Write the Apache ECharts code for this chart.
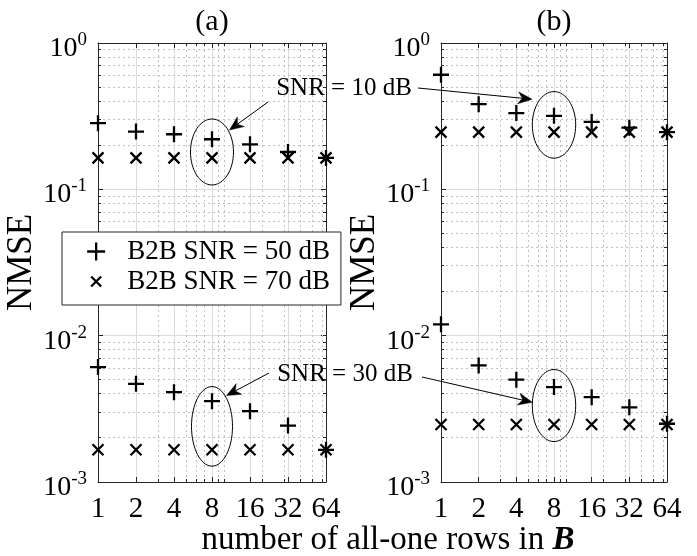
<!DOCTYPE html>
<html><head><meta charset="utf-8">
<script src="https://cdn.jsdelivr.net/npm/echarts@6/dist/echarts.min.js"></script>
<style>html,body{margin:0;padding:0;background:#fff}#c{width:697px;height:556px}</style>
</head><body><div id="c"></div>
<script>
// ---------- data ----------
const xVals = [1, 2, 4, 8, 16, 32, 64];
const xMinor = [3, 5, 6, 7, 9, 10, 20, 30, 40, 50, 60];
const yMinor = [0.002, 0.003, 0.004, 0.005, 0.006, 0.007, 0.008, 0.009,
                0.02, 0.03, 0.04, 0.05, 0.06, 0.07, 0.08, 0.09,
                0.2, 0.3, 0.4, 0.5, 0.6, 0.7, 0.8, 0.9];
const xRange = [1, 64];
const yRange = [0.001, 1];
// (a)
const a_snr10_b2b50 = [0.283, 0.248, 0.238, 0.220, 0.203, 0.180, 0.164];
const a_snr10_b2b70 = [0.164, 0.164, 0.164, 0.164, 0.164, 0.164, 0.164];
const a_snr30_b2b50 = [0.00610, 0.00469, 0.00411, 0.00357, 0.00305, 0.00243, 0.00166];
const a_snr30_b2b70 = [0.00166, 0.00166, 0.00166, 0.00166, 0.00166, 0.00166, 0.00166];
// (b)
const b_snr10_b2b50 = [0.607, 0.382, 0.332, 0.318, 0.289, 0.264, 0.246];
const b_snr10_b2b70 = [0.246, 0.246, 0.246, 0.246, 0.246, 0.246, 0.246];
const b_snr30_b2b50 = [0.01195, 0.00626, 0.00500, 0.00445, 0.00380, 0.00324, 0.00250];
const b_snr30_b2b70 = [0.00247, 0.00247, 0.00247, 0.00247, 0.00247, 0.00247, 0.00247];
const seriesNames = ['B2B SNR = 50 dB', 'B2B SNR = 70 dB'];
const annoTexts = ['SNR = 10 dB', 'SNR = 30 dB'];
// ellipse anchors (data coords): [x, y]
const ellipseAnchors = [[8, 0.180], [8, 0.00240], [8, 0.2757], [8, 0.00333]];

// ---------- style ----------
const FONT = 'Liberation Serif';
const AX = '#262626';
const PLUS = 'path://M0 0M16 16M0 8L16 8M8 0L8 16';
const CROSS = 'path://M0 0M16 16M2.5 2.5L13.5 13.5M13.5 2.5L2.5 13.5';
const LPLUS = 'path://M0 0M35 18M0 9L18 9M9 0L9 18';
const LCROSS = 'path://M0 0M35 18M4 4L14 14M14 4L4 14';

function pts(a, b) {
  return xVals.map((x, i) => [x, a[i]]).concat(xVals.map((x, i) => [x, b[i]]));
}
function xAxisDef(grid, pos, labels) {
  return {
    type: 'log', logBase: 2, gridIndex: grid, position: pos,
    min: xRange[0], max: xRange[1], interval: 1,
    axisLine: {show: true, onZero: false, lineStyle: {color: AX, width: 1}},
    axisTick: {show: true, inside: true, length: 5, lineStyle: {color: AX}},
    axisLabel: {show: labels, margin: 13, fontSize: 29, fontFamily: FONT, color: '#000',
      formatter: v => String(Math.round(v))},
    splitLine: {show: labels, lineStyle: {color: '#dadada', width: 1}},
    minorTick: {show: false}, minorSplitLine: {show: false}
  };
}
function yAxisDef(grid, pos, labels, nameGap) {
  return {
    type: 'log', logBase: 10, gridIndex: grid, position: pos,
    min: yRange[0], max: yRange[1], interval: 1,
    name: labels ? 'NMSE' : '', nameLocation: 'middle', nameGap: nameGap,
    nameTextStyle: {fontSize: 35, fontFamily: FONT, color: '#000'},
    axisLine: {show: true, onZero: false, lineStyle: {color: AX, width: 1}},
    axisTick: {show: true, inside: true, length: 5, lineStyle: {color: AX}},
    axisLabel: {show: labels, margin: 11, padding: [11, 0, 0, 0],
      formatter: v => '{b|10}{s|' + Math.round(Math.log10(v)) + '}',
      rich: {
        b: {fontSize: 28, lineHeight: 36, fontFamily: FONT, color: '#000'},
        s: {fontSize: 19, lineHeight: 16, verticalAlign: 'top', fontFamily: FONT, color: '#000'}
      }},
    splitLine: {show: labels, lineStyle: {color: '#dadada', width: 1}},
    minorTick: {show: false}, minorSplitLine: {show: false}
  };
}
const crisp = v => Math.round(v - 0.5) + 0.5;
function xMinorItem(params, api) {
  const v = api.value(0);
  const b = api.coord([v, yRange[0]]), t = api.coord([v, yRange[1]]);
  const x = crisp(b[0]);
  return {type: 'group', children: [
    {type: 'line', shape: {x1: x, y1: b[1], x2: x, y2: t[1]}, style: {stroke: '#c2c2c2', lineWidth: 1, lineDash: [2, 3]}},
    {type: 'line', shape: {x1: x, y1: b[1], x2: x, y2: b[1] - 3}, style: {stroke: AX, lineWidth: 1}},
    {type: 'line', shape: {x1: x, y1: t[1], x2: x, y2: t[1] + 3}, style: {stroke: AX, lineWidth: 1}}
  ]};
}
function yMinorItem(params, api) {
  const v = api.value(1);
  const l = api.coord([xRange[0], v]), r = api.coord([xRange[1], v]);
  const y = crisp(l[1]);
  return {type: 'group', children: [
    {type: 'line', shape: {x1: l[0], y1: y, x2: r[0], y2: y}, style: {stroke: '#c2c2c2', lineWidth: 1, lineDash: [2, 3]}},
    {type: 'line', shape: {x1: l[0], y1: y, x2: l[0] + 3, y2: y}, style: {stroke: AX, lineWidth: 1}},
    {type: 'line', shape: {x1: r[0], y1: y, x2: r[0] - 3, y2: y}, style: {stroke: AX, lineWidth: 1}}
  ]};
}
function scatter(name, sym, xi, yi, data) {
  return {type: 'scatter', name: name, xAxisIndex: xi, yAxisIndex: yi, symbol: sym, symbolSize: 16,
    silent: true, z: 3, data: data,
    itemStyle: {color: 'transparent', borderColor: '#000', borderWidth: 2.3, opacity: 1}};
}
function minorSeries(xi, yi) {
  return [
    {type: 'custom', xAxisIndex: xi, yAxisIndex: yi, silent: true, z: 1,
     data: xMinor.map(v => [v, yRange[0]]), renderItem: xMinorItem},
    {type: 'custom', xAxisIndex: xi, yAxisIndex: yi, silent: true, z: 1,
     data: yMinor.map(v => [xRange[0], v]), renderItem: yMinorItem}
  ];
}

const chart = echarts.init(document.getElementById('c'), null, {renderer: 'canvas'});
chart.setOption({
  animation: false,
  backgroundColor: '#fff',
  grid: [
    {left: 98, top: 43, width: 228, height: 439, containLabel: false},
    {left: 441, top: 43, width: 226, height: 439, containLabel: false}
  ],
  xAxis: [xAxisDef(0, 'bottom', true), xAxisDef(0, 'top', false),
          xAxisDef(1, 'bottom', true), xAxisDef(1, 'top', false)],
  yAxis: [yAxisDef(0, 'left', true, 55), yAxisDef(0, 'right', false, 0),
          yAxisDef(1, 'left', true, 51), yAxisDef(1, 'right', false, 0)],
  legend: {
    orient: 'vertical', left: 62, top: 232, z: 10,
    backgroundColor: '#fff', borderColor: AX, borderWidth: 1, borderRadius: 0,
    padding: [6, 11, 10, 24], itemGap: 3, itemWidth: 35, itemHeight: 18,
    selectedMode: false,
    textStyle: {fontSize: 27, fontFamily: FONT, color: '#000', lineHeight: 24},
    itemStyle: {color: 'transparent', borderColor: '#000', borderWidth: 2.3},
    data: [{name: seriesNames[0], icon: LPLUS}, {name: seriesNames[1], icon: LCROSS}]
  },
  series: [
    scatter(seriesNames[1], CROSS, 0, 0, pts(a_snr10_b2b70, a_snr30_b2b70)),
    scatter(seriesNames[0], PLUS, 0, 0, pts(a_snr10_b2b50, a_snr30_b2b50)),
    scatter(seriesNames[1], CROSS, 2, 2, pts(b_snr10_b2b70, b_snr30_b2b70)),
    scatter(seriesNames[0], PLUS, 2, 2, pts(b_snr10_b2b50, b_snr30_b2b50))
  ].concat(minorSeries(0, 0), minorSeries(2, 2))
});

// ---------- annotations (anchored through the chart's scales) ----------
const ellipseRadii = [[21.5, 33], [20.5, 39.8], [21.7, 33.3], [21.7, 36]];
const ellipseSeries = [0, 0, 2, 2];
const centers = ellipseAnchors.map((p, i) => chart.convertToPixel({seriesIndex: ellipseSeries[i]}, p));
const arrows = [
  {from: [268, 102], e: 0, f: [0.814, -0.667]},
  {from: [418, 88], e: 2, f: [-1.01, -0.77]},
  {from: [269, 373], e: 1, f: [0.712, -0.774]},
  {from: [422, 377], e: 3, f: [-1.0, -0.09]}
];
const graphics = [];
centers.forEach((c, i) => {
  graphics.push({type: 'ellipse', z: 20, silent: true,
    shape: {cx: c[0], cy: c[1], rx: ellipseRadii[i][0], ry: ellipseRadii[i][1]},
    style: {fill: 'none', stroke: '#000', lineWidth: 1}});
});
arrows.forEach(a => {
  const c = centers[a.e], r = ellipseRadii[a.e];
  const tip = [c[0] + r[0] * a.f[0], c[1] + r[1] * a.f[1]];
  const dx = tip[0] - a.from[0], dy = tip[1] - a.from[1];
  const len = Math.hypot(dx, dy), ux = dx / len, uy = dy / len, nx = -uy, ny = ux;
  const L = 14, W = 6;
  const back = [tip[0] - ux * L, tip[1] - uy * L];
  const notch = [tip[0] - ux * L * 0.7, tip[1] - uy * L * 0.7];
  graphics.push({type: 'line', z: 20, silent: true,
    shape: {x1: a.from[0], y1: a.from[1], x2: notch[0], y2: notch[1]},
    style: {stroke: '#000', lineWidth: 1}});
  graphics.push({type: 'polygon', z: 20, silent: true,
    shape: {points: [tip, [back[0] + nx * W, back[1] + ny * W], notch, [back[0] - nx * W, back[1] - ny * W]]},
    style: {fill: '#000', stroke: '#000', lineWidth: 0.5}});
});
graphics.push({type: 'text', z: 20, silent: true, x: 344, y: 88,
  style: {text: annoTexts[0], font: '25px "Liberation Serif"', fill: '#000', textAlign: 'center', textVerticalAlign: 'middle'}});
graphics.push({type: 'text', z: 20, silent: true, x: 345, y: 374,
  style: {text: annoTexts[1], font: '25px "Liberation Serif"', fill: '#000', textAlign: 'center', textVerticalAlign: 'middle'}});
// titles and shared x label
graphics.push({type: 'text', z: 20, silent: true, x: 212, y: 22,
  style: {text: '(a)', font: '30px "Liberation Serif"', fill: '#000', textAlign: 'center', textVerticalAlign: 'middle'}});
graphics.push({type: 'text', z: 20, silent: true, x: 554, y: 22,
  style: {text: '(b)', font: '30px "Liberation Serif"', fill: '#000', textAlign: 'center', textVerticalAlign: 'middle'}});
graphics.push({type: 'text', z: 20, silent: true, x: 388, y: 540,
  style: {text: '{n|number of all-one rows in }{b|B}', textAlign: 'center', textVerticalAlign: 'middle',
    rich: {
      n: {fontSize: 33, fontFamily: FONT, fill: '#000', color: '#000'},
      b: {fontSize: 33, fontFamily: FONT, fontWeight: 'bold', fontStyle: 'italic', fill: '#000', color: '#000'}
    }}});
chart.setOption({graphic: graphics});
</script></body></html>
